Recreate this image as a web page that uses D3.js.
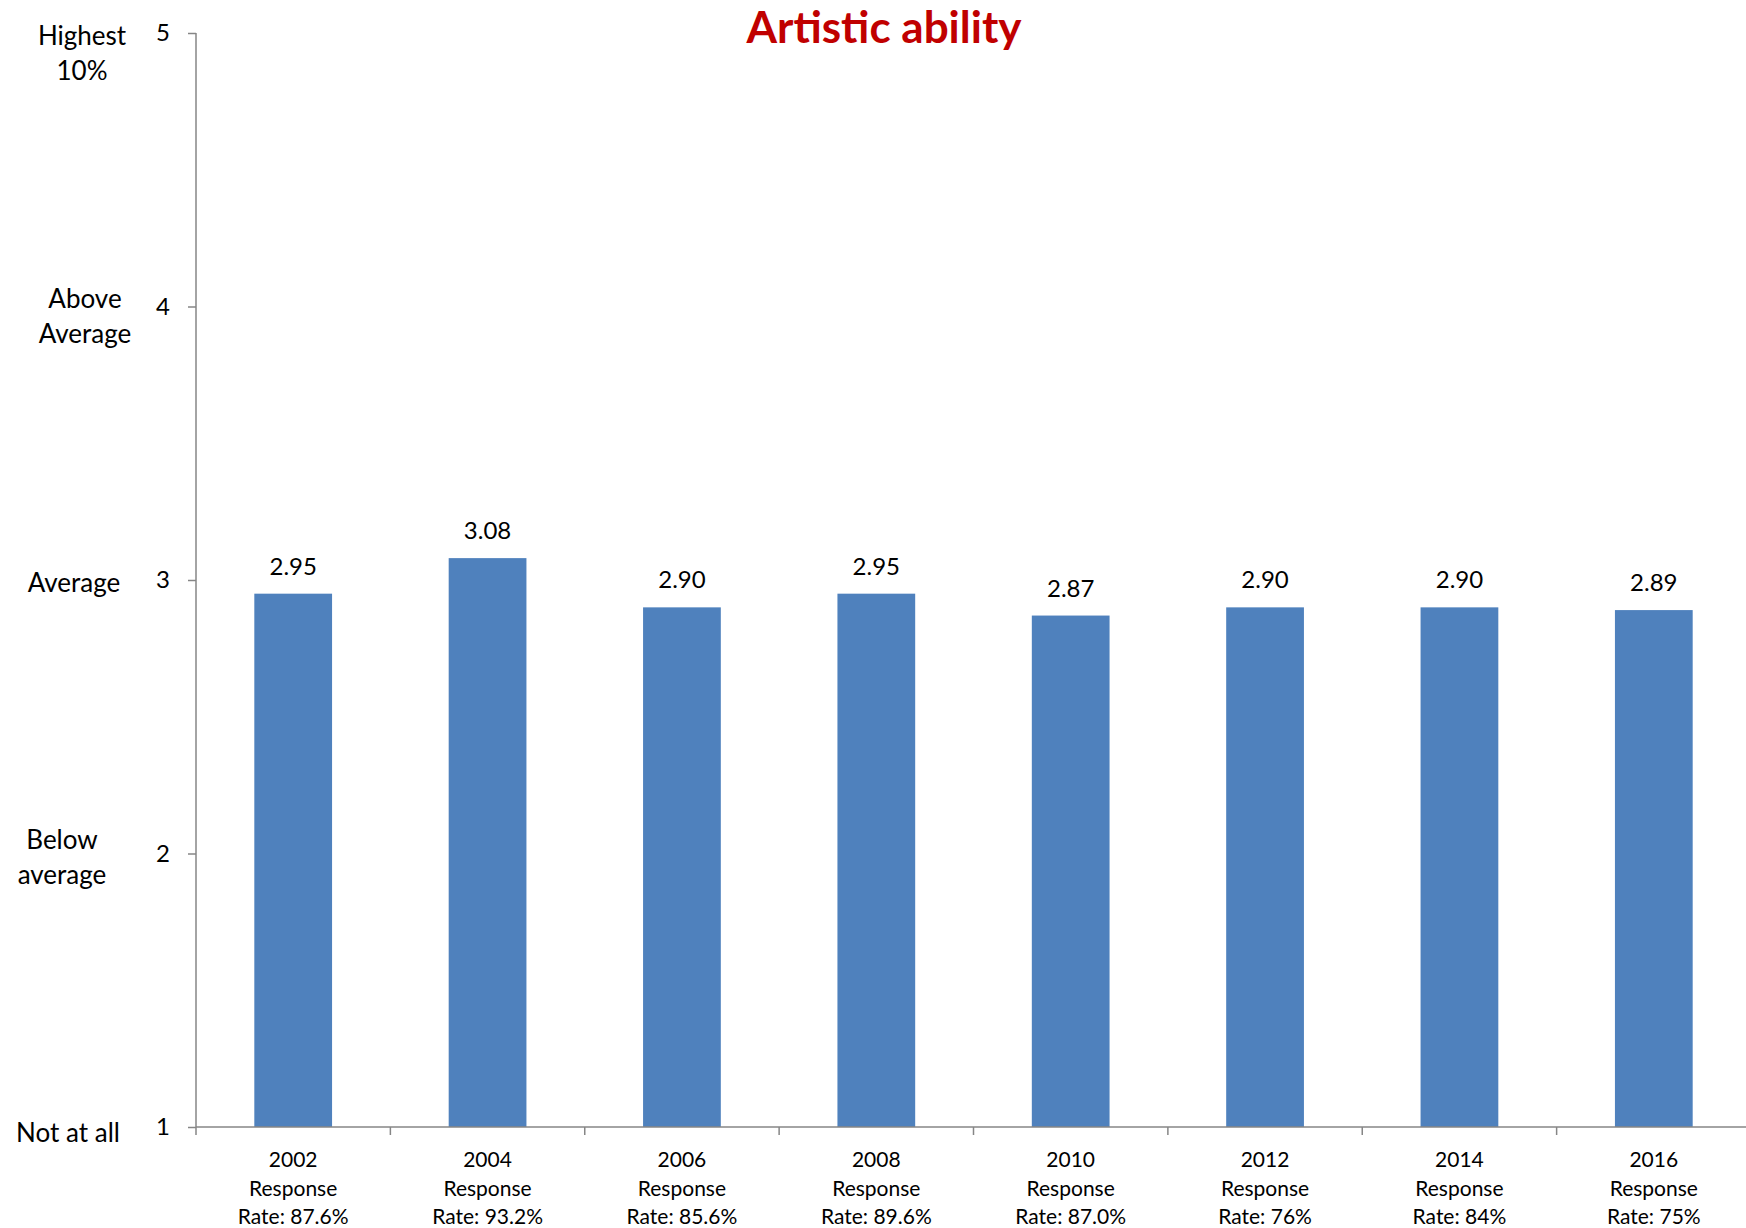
<!DOCTYPE html>
<html><head><meta charset="utf-8">
<script src="https://cdn.jsdelivr.net/npm/d3@7"></script>
<style>body{margin:0;background:#fff}svg{display:block}text{font-family:Lato,"Open Sans",sans-serif}</style>
</head><body><svg id="c" width="1746" height="1228"></svg>
<script>
const years = ["2002","2004","2006","2008","2010","2012","2014","2016"];
const rates = ["87.6%","93.2%","85.6%","89.6%","87.0%","76%","84%","75%"];
const values = [2.95,3.08,2.90,2.95,2.87,2.90,2.90,2.89];
const valueLabels = ["2.95","3.08","2.90","2.95","2.87","2.90","2.90","2.89"];
const yTicks = [1,2,3,4,5];
const scaleLabels = [
  {v:5, lines:["Highest","10%"]},
  {v:4, lines:["Above","Average"]},
  {v:3, lines:["Average"]},
  {v:2, lines:["Below","average"]},
  {v:1, lines:["Not at all"]}
];
const title = "Artistic ability";

const svg = d3.select("#c");
const x0 = 196, x1 = 1751, yTop = 33, yBot = 1127;
const x = d3.scaleBand().domain(years).range([x0, x1]).paddingInner(0.6).paddingOuter(0.3);
const y = d3.scaleLinear().domain([1,5]).range([yBot, yTop]);
const axisColor = "#868686";
// layout for the left-hand scale words (position only)
const labelPos = {5:{cx:82,dy:12},4:{cx:85,dy:1},3:{cx:74,dy:12},2:{cx:62,dy:-5},1:{cx:68,dy:15}};

// bars
svg.append("g").selectAll("rect").data(values).join("rect")
  .attr("x",(d,i)=>x(years[i])).attr("width",x.bandwidth())
  .attr("y",d=>y(d)).attr("height",d=>y(1)-y(d))
  .attr("fill","#4F81BD");

// value labels
svg.append("g").selectAll("text").data(values).join("text")
  .attr("x",(d,i)=>x(years[i])+x.bandwidth()/2).attr("y",d=>y(d)-19)
  .attr("text-anchor","middle").attr("font-size",24).attr("fill","#000")
  .text((d,i)=>valueLabels[i]);

// y axis
const yAxis = svg.append("g").attr("transform",`translate(${x0},0)`)
  .call(d3.axisLeft(y).tickValues(yTicks).tickFormat(d3.format("d")).tickSize(8).tickPadding(18));
yAxis.select(".domain").attr("stroke",axisColor).attr("stroke-width",1.5).attr("d",`M0,${yTop}V${yBot}`);
yAxis.selectAll(".tick line").attr("stroke",axisColor).attr("stroke-width",1.5);
yAxis.selectAll(".tick text").attr("font-size",24).attr("fill","#000").attr("font-family","Lato, sans-serif");

// x axis
const band = (x1-x0)/years.length;
const xAxisG = svg.append("g");
xAxisG.append("line").attr("x1",x0).attr("x2",x1).attr("y1",yBot).attr("y2",yBot)
  .attr("stroke",axisColor).attr("stroke-width",1.5);
xAxisG.selectAll("line.t").data(d3.range(years.length+1)).join("line").attr("class","t")
  .attr("x1",i=>x0+i*band).attr("x2",i=>x0+i*band).attr("y1",yBot).attr("y2",yBot+8)
  .attr("stroke",axisColor).attr("stroke-width",1.5);
const cat = xAxisG.selectAll("text").data(years).join("text")
  .attr("text-anchor","middle").attr("font-size",21).attr("fill","#000");
cat.each(function(d,i){
  const cx = x(d)+x.bandwidth()/2;
  const t = d3.select(this);
  [d,"Response","Rate: "+rates[i]].forEach((s,k)=>{
    t.append("tspan").attr("x",cx).attr("y",1167+k*28.5).text(s);
  });
});

// scale labels
svg.append("g").selectAll("text").data(scaleLabels).join("text")
  .attr("text-anchor","middle").attr("font-size",26).attr("fill","#000")
  .each(function(d){
    const t = d3.select(this);
    const p = labelPos[d.v];
    d.lines.forEach((s,k)=>{
      t.append("tspan").attr("x",p.cx).attr("y",y(d.v)+p.dy + k*35).text(s);
    });
  });

// title
svg.append("text").attr("x",884).attr("y",43).attr("text-anchor","middle")
  .attr("font-size",44).attr("font-weight","bold").attr("fill","#C00000").text(title);
</script></body></html>
